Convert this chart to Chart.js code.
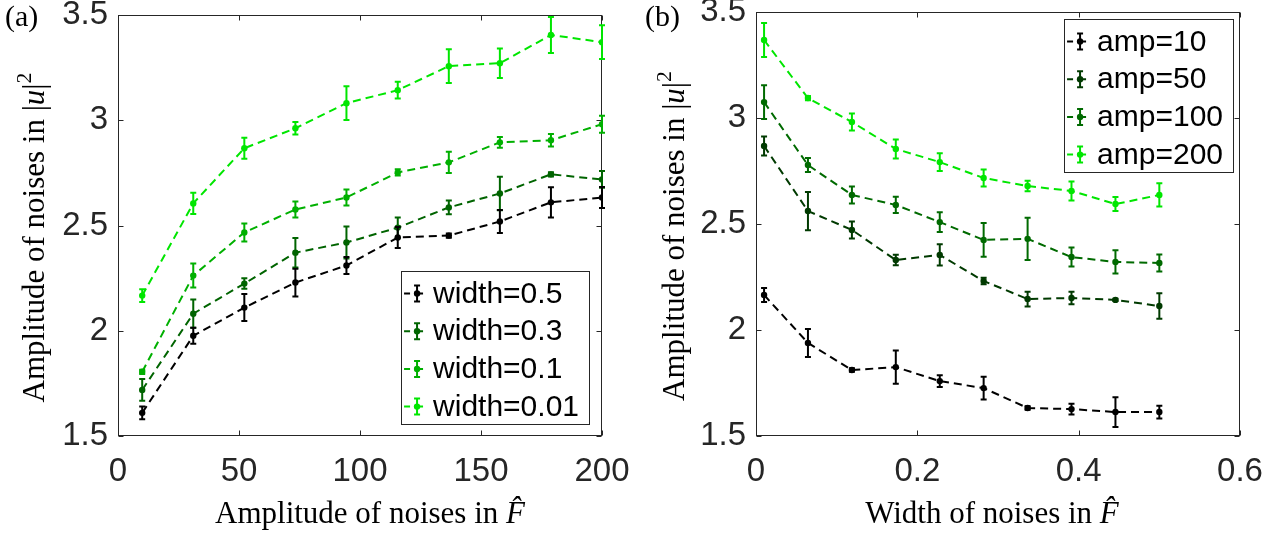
<!DOCTYPE html>
<html>
<head>
<meta charset="utf-8">
<script src="https://cdn.jsdelivr.net/npm/chart.js@4.4.1/dist/chart.umd.min.js"></script>
<style>
  body { margin: 0; background: #fff; }
  .panel { position: absolute; top: 0; width: 640px; height: 535px; }
</style>
</head>
<body>
<div class="panel" style="left:0"><canvas id="chartA" width="640" height="535"></canvas></div>
<div class="panel" style="left:640px"><canvas id="chartB" width="640" height="535"></canvas></div>
<script>
// panel (a): amplitude of noises on x
const ampX = [10, 31.1, 52.2, 73.3, 94.4, 115.6, 136.7, 157.8, 178.9, 200];
const width05 = [1.61, 1.976, 2.11, 2.229, 2.31, 2.443, 2.452, 2.519, 2.61, 2.633];
const width05Err = [0.03, 0.038, 0.064, 0.066, 0.04, 0.05, 0.01, 0.055, 0.072, 0.05];
const width03 = [1.719, 2.081, 2.224, 2.371, 2.419, 2.49, 2.586, 2.652, 2.743, 2.719];
const width03Err = [0.052, 0.067, 0.025, 0.07, 0.076, 0.048, 0.033, 0.08, 0.01, 0.04];
const width01 = [1.805, 2.262, 2.467, 2.576, 2.633, 2.752, 2.8, 2.895, 2.905, 2.981];
const width01Err = [0.01, 0.057, 0.043, 0.038, 0.038, 0.015, 0.05, 0.026, 0.03, 0.04];
const width001 = [2.167, 2.605, 2.867, 2.962, 3.081, 3.143, 3.257, 3.271, 3.405, 3.371];
const width001Err = [0.03, 0.05, 0.05, 0.03, 0.08, 0.04, 0.08, 0.07, 0.085, 0.08];

// panel (b): width of noises on x
const widthX = [0.01, 0.0644, 0.1189, 0.1733, 0.2278, 0.2822, 0.3367, 0.3911, 0.4456, 0.5];
const amp10 = [2.165, 1.939, 1.811, 1.825, 1.759, 1.726, 1.632, 1.627, 1.613, 1.613];
const amp10Err = [0.033, 0.066, 0.008, 0.078, 0.028, 0.054, 0.008, 0.025, 0.07, 0.03];
const amp50 = [2.868, 2.561, 2.472, 2.33, 2.354, 2.231, 2.146, 2.151, 2.142, 2.113];
const amp50Err = [0.045, 0.09, 0.04, 0.025, 0.05, 0.015, 0.035, 0.03, 0.005, 0.06];
const amp100 = [3.075, 2.778, 2.637, 2.59, 2.509, 2.425, 2.43, 2.344, 2.321, 2.316];
const amp100Err = [0.08, 0.033, 0.04, 0.038, 0.047, 0.08, 0.1, 0.045, 0.055, 0.04];
const amp200 = [3.368, 3.094, 2.981, 2.854, 2.792, 2.717, 2.679, 2.656, 2.594, 2.637];
const amp200Err = [0.08, 0.01, 0.04, 0.045, 0.042, 0.04, 0.025, 0.045, 0.033, 0.055];

const axisColor = "#262626";
const sans = "'Liberation Sans', Arial, Helvetica, sans-serif";
const serif = "'Liberation Serif', 'Times New Roman', serif";

function makeDataset(label, xs, ys, errs, color) {
  return {
    label: label,
    data: xs.map((x, i) => ({ x: x, y: ys[i] })),
    errors: errs,
    borderColor: color,
    backgroundColor: color,
    pointBackgroundColor: color,
    pointBorderWidth: 0,
    pointRadius: 3.2,
    borderWidth: 2,
    borderDash: [8, 5],
    tension: 0,
    fill: false,
  };
}

// draw text pieces (normal / italic / superscript) centred on 0,0
function drawParts(ctx, parts, size) {
  const fontOf = (p) => (p.italic ? "italic " : "") + (p.sup ? size * 0.7 : size) + "px " + serif;
  let total = 0;
  parts.forEach((p) => { ctx.font = fontOf(p); total += ctx.measureText(p.t).width; });
  let x = -total / 2;
  ctx.textBaseline = "alphabetic";
  ctx.textAlign = "left";
  parts.forEach((p) => {
    ctx.font = fontOf(p);
    ctx.fillText(p.t, x, p.sup ? -size * 0.42 : 0);
    x += ctx.measureText(p.t).width;
  });
}

// error bars after each line
const errorBars = {
  id: "errorBars",
  afterDatasetDraw(chart, args) {
    const ds = chart.data.datasets[args.index];
    if (!ds.errors) return;
    const ctx = chart.ctx;
    const ys = chart.scales.y;
    const meta = args.meta;
    ctx.save();
    ctx.strokeStyle = ds.borderColor;
    ctx.lineWidth = 2;
    meta.data.forEach((pt, i) => {
      const v = ds.data[i].y, e = ds.errors[i];
      const top = ys.getPixelForValue(v + e), bot = ys.getPixelForValue(v - e);
      ctx.beginPath();
      ctx.moveTo(pt.x, top); ctx.lineTo(pt.x, bot);
      ctx.moveTo(pt.x - 3, top); ctx.lineTo(pt.x + 3, top);
      ctx.moveTo(pt.x - 3, bot); ctx.lineTo(pt.x + 3, bot);
      ctx.stroke();
    });
    ctx.restore();
  },
};

// axes box with inward ticks, titles, panel label, legend box
const panelDeco = {
  id: "panelDeco",
  beforeDatasetsDraw(chart) {
    const ctx = chart.ctx, a = chart.chartArea;
    const xs = chart.scales.x, ys = chart.scales.y;
    ctx.save();
    ctx.strokeStyle = axisColor;
    ctx.lineWidth = 1;
    const L = Math.round(a.left) + 0.5, R = Math.round(a.right) - 0.5;
    const T = Math.round(a.top) + 0.5, B = Math.round(a.bottom) - 0.5;
    ctx.strokeRect(L, T, R - L, B - T);
    ctx.beginPath();
    xs.ticks.forEach((t) => {
      const px = Math.round(xs.getPixelForValue(t.value)) + 0.5;
      ctx.moveTo(px, B); ctx.lineTo(px, B - 5);
      ctx.moveTo(px, T); ctx.lineTo(px, T + 5);
    });
    ys.ticks.forEach((t) => {
      const py = Math.round(ys.getPixelForValue(t.value)) + 0.5;
      ctx.moveTo(L, py); ctx.lineTo(L + 5, py);
      ctx.moveTo(R, py); ctx.lineTo(R - 5, py);
    });
    ctx.stroke();
    ctx.restore();
  },
  afterDraw(chart, args, o) {
    const ctx = chart.ctx, a = chart.chartArea;
    ctx.save();
    ctx.fillStyle = "#000";
    // panel label
    ctx.font = "30px " + serif;
    ctx.textAlign = "left";
    ctx.textBaseline = "alphabetic";
    ctx.fillText(o.tag, 5, 26);
    // x title
    ctx.save();
    ctx.translate((a.left + a.right) / 2 + o.xTitleShift, 523);
    drawParts(ctx, o.xTitle, 31);
    ctx.restore();
    // y title
    ctx.save();
    ctx.translate(44, (a.top + a.bottom) / 2 + 12);
    ctx.rotate(-Math.PI / 2);
    drawParts(ctx, o.yTitle, 31);
    ctx.restore();

    // legend
    const lg = o.legend;
    const dsets = chart.data.datasets;
    ctx.font = "30px " + sans;
    let maxW = 0;
    dsets.forEach((d) => { maxW = Math.max(maxW, ctx.measureText(d.label).width); });
    const bw = lg.textOffset + maxW + 10;
    const bh = 153;
    const bx = a.right - lg.right - bw;
    const by = lg.top !== undefined ? a.top + lg.top : a.bottom - lg.bottom - bh;
    ctx.fillStyle = "#fff";
    ctx.fillRect(bx, by, bw, bh);
    ctx.strokeStyle = "#262626";
    ctx.lineWidth = 1;
    ctx.strokeRect(Math.round(bx) + 0.5, Math.round(by) + 0.5, Math.round(bw), Math.round(bh));
    dsets.forEach((d, i) => {
      const cy = by + 22.5 + i * 37.7;
      const sx = bx + 16;
      ctx.strokeStyle = d.borderColor;
      ctx.fillStyle = d.borderColor;
      ctx.lineWidth = 2;
      ctx.beginPath();
      ctx.moveTo(bx + 3, cy); ctx.lineTo(bx + 9, cy);
      ctx.moveTo(sx - 3, cy); ctx.lineTo(sx + 6, cy);
      ctx.moveTo(sx, cy - 8); ctx.lineTo(sx, cy + 8);
      ctx.moveTo(sx - 3, cy - 8); ctx.lineTo(sx + 3, cy - 8);
      ctx.moveTo(sx - 3, cy + 8); ctx.lineTo(sx + 3, cy + 8);
      ctx.stroke();
      ctx.beginPath();
      ctx.arc(sx, cy, 3.2, 0, Math.PI * 2);
      ctx.fill();
      ctx.fillStyle = "#000";
      ctx.font = "30px " + sans;
      ctx.textBaseline = "middle";
      ctx.fillText(d.label, bx + lg.textOffset, cy + 1);
    });
    ctx.restore();
  },
};

function axisOptions(min, max, step, fit) {
  return {
    type: "linear",
    min: min,
    max: max,
    ticks: {
      stepSize: step,
      color: axisColor,
      font: { family: sans, size: 33 },
      padding: fit.pad,
      callback: (v) => String(Math.round(v * 100) / 100),
    },
    grid: { display: false, drawTicks: false },
    border: { display: false },
    afterFit: (s) => {
      // fixed axis band, no extra room for overhanging end labels
      if (fit.height) s.height = fit.height;
      if (fit.width) s.width = fit.width;
      s.paddingTop = 0; s.paddingBottom = 0;
      s.paddingLeft = 0; s.paddingRight = 0;
    },
  };
}

const yTitle = [
  { t: "Amplitude of noises in |" },
  { t: "u", italic: true },
  { t: "|" },
  { t: "2", sup: true },
];

// Panel (a): Amplitude of noises in F
const chartA = new Chart(document.getElementById("chartA"), {
  type: "line",
  data: {
    datasets: [
      makeDataset("width=0.5", ampX, width05, width05Err, "#000000"),
      makeDataset("width=0.3", ampX, width03, width03Err, "#006400"),
      makeDataset("width=0.1", ampX, width01, width01Err, "#00b000"),
      makeDataset("width=0.01", ampX, width001, width001Err, "#00e600"),
    ],
  },
  options: {
    responsive: false,
    animation: false,
    layout: { padding: { left: 0, right: 38, top: 15, bottom: 0 } },
    plugins: {
      legend: { display: false },
      tooltip: { enabled: false },
      panelDeco: {
        tag: "(a)",
        xTitle: [{ t: "Amplitude of noises in " }, { t: "F\u0302", italic: true }],
        xTitleShift: 10,
        yTitle: yTitle,
        legend: { right: 13, bottom: 12, textOffset: 32 },
      },
    },
    scales: {
      x: axisOptions(0, 200, 50, { pad: 16, height: 99 }),
      y: axisOptions(1.5, 3.5, 0.5, { pad: 10, width: 118 }),
    },
  },
  plugins: [errorBars, panelDeco],
});

// Panel (b): Width of noises in F
const chartB = new Chart(document.getElementById("chartB"), {
  type: "line",
  data: {
    datasets: [
      makeDataset("amp=10", widthX, amp10, amp10Err, "#000000"),
      makeDataset("amp=50", widthX, amp50, amp50Err, "#003a00"),
      makeDataset("amp=100", widthX, amp100, amp100Err, "#006a00"),
      makeDataset("amp=200", widthX, amp200, amp200Err, "#00e600"),
    ],
  },
  options: {
    responsive: false,
    animation: false,
    layout: { padding: { left: 0, right: 40, top: 12, bottom: 0 } },
    plugins: {
      legend: { display: false },
      tooltip: { enabled: false },
      panelDeco: {
        tag: "(b)",
        xTitle: [{ t: "Width of noises in " }, { t: "F\u0302", italic: true }],
        xTitleShift: -6,
        yTitle: yTitle,
        legend: { right: 7, top: 7, textOffset: 33 },
      },
    },
    scales: {
      x: axisOptions(0, 0.6, 0.2, { pad: 16, height: 99 }),
      y: axisOptions(1.5, 3.5, 0.5, { pad: 10, width: 116 }),
    },
  },
  plugins: [errorBars, panelDeco],
});
</script>
</body>
</html>
